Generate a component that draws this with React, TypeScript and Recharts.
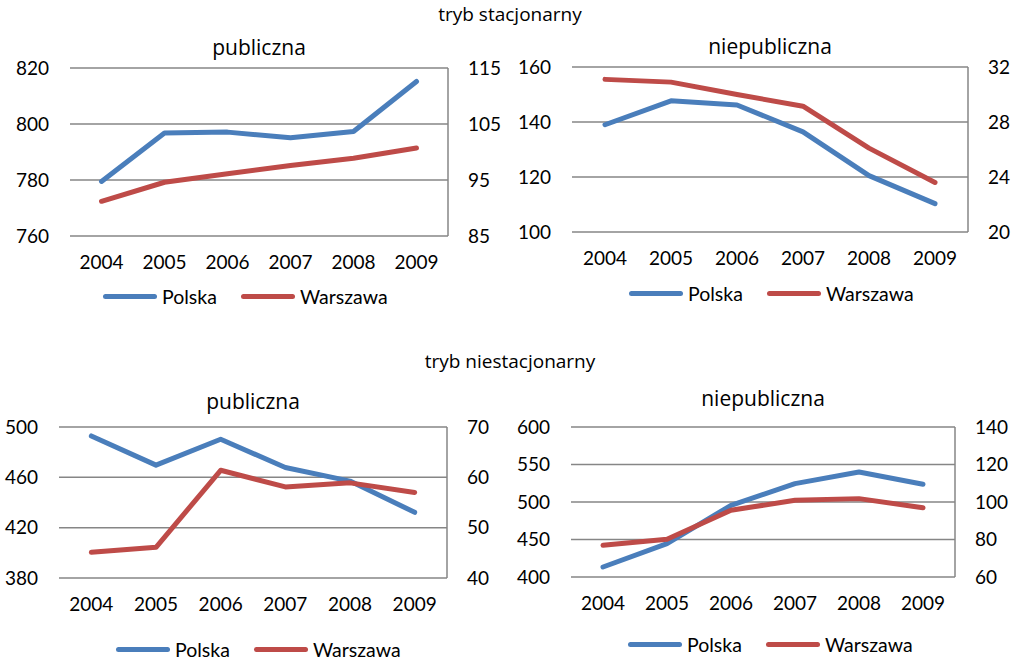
import React from 'react';
import { LineChart, Line, XAxis, YAxis, CartesianGrid } from 'recharts';

const years = ['2004', '2005', '2006', '2007', '2008', '2009'];
const seriesNames = ['Polska', 'Warszawa'];
const sectionTitles = ['tryb stacjonarny', 'tryb niestacjonarny'];

// tryb stacjonarny
const stacPubPolska = [779.5, 796.8, 797.1, 795.1, 797.3, 815.2];
const stacPubWarszawa = [91.2, 94.6, 96.1, 97.6, 98.9, 100.7];
const stacNiepubPolska = [139, 147.7, 146.2, 136.4, 120.5, 110.3];
const stacNiepubWarszawa = [31.1, 30.9, 30.0, 29.15, 26.1, 23.6];

// tryb niestacjonarny
const niestacPubPolska = [492.9, 469.7, 490.3, 467.8, 457, 432.2];
const niestacPubWarszawa = [45.1, 46.1, 61.4, 58.1, 58.9, 57.0];
const niestacNiepubPolska = [413.3, 444.5, 495.6, 524.5, 540, 523.6];
const niestacNiepubWarszawa = [76.9, 80.1, 95.6, 100.9, 101.8, 96.9];

const stacPubLeftTicks = [760, 780, 800, 820];
const stacPubRightTicks = [85, 95, 105, 115];
const stacNiepubLeftTicks = [100, 120, 140, 160];
const stacNiepubRightTicks = [20, 24, 28, 32];
const niestacPubLeftTicks = [380, 420, 460, 500];
const niestacPubRightTicks = [40, 50, 60, 70];
const niestacNiepubLeftTicks = [400, 450, 500, 550, 600];
const niestacNiepubRightTicks = [60, 80, 100, 120, 140];

const BLUE = '#4a7ebb';
const RED = '#be4b48';
const GRID = '#868686';
const FONT = 'Lato, "Open Sans", sans-serif';
const TITLE_FONT = '"Open Sans", sans-serif';

type PanelProps = {
  title: string;
  polska: number[];
  warszawa: number[];
  leftTicks: number[];
  rightTicks: number[];
  // chart box and plot area in page coords
  box: { x: number; y: number; w: number; h: number };
  plot: { x1: number; y1: number; x2: number; y2: number };
  titleY: number;
  legendY: number;
  legendX: number;
};

const AXIS_W = 50;
const XAXIS_H = 30;

function Panel(p: PanelProps) {
  const data = years.map((y, i) => ({
    year: y,
    polska: p.polska[i],
    warszawa: p.warszawa[i],
  }));
  const plotW = p.plot.x2 - p.plot.x1;
  const pad = plotW / (years.length * 2);
  const margin = {
    left: p.plot.x1 - p.box.x - AXIS_W,
    right: p.box.x + p.box.w - p.plot.x2 - AXIS_W,
    top: p.plot.y1 - p.box.y,
    bottom: p.box.y + p.box.h - p.plot.y2 - XAXIS_H,
  };
  const tickStyle = { fill: '#000', fontSize: 19, fontFamily: FONT };
  const titleCenter = (p.plot.x1 + p.plot.x2) / 2;

  return (
    <>
      <div style={{ position: 'absolute', left: p.box.x, top: p.box.y }}>
        <LineChart width={p.box.w} height={p.box.h} data={data} margin={margin}>
          <CartesianGrid yAxisId="left" vertical={false} stroke={GRID} strokeWidth={1.5} />
          <XAxis
            dataKey="year"
            axisLine={false}
            tickLine={false}
            tickSize={0}
            tickMargin={20}
            height={XAXIS_H}
            padding={{ left: pad, right: pad }}
            tick={tickStyle}
            interval={0}
          />
          <YAxis
            yAxisId="left"
            domain={[p.leftTicks[0], p.leftTicks[p.leftTicks.length - 1]]}
            ticks={p.leftTicks}
            axisLine={false}
            tickLine={false}
            tickSize={0}
            tickMargin={21}
            width={AXIS_W}
            tick={tickStyle}
            interval={0}
          />
          <YAxis
            yAxisId="right"
            orientation="right"
            domain={[p.rightTicks[0], p.rightTicks[p.rightTicks.length - 1]]}
            ticks={p.rightTicks}
            axisLine={{ stroke: GRID, strokeWidth: 1.5 }}
            tickLine={false}
            tickSize={0}
            tickMargin={20}
            width={AXIS_W}
            tick={tickStyle}
            interval={0}
          />
          <Line
            yAxisId="left"
            type="linear"
            dataKey="polska"
            stroke={BLUE}
            strokeWidth={5}
            strokeLinecap="round"
            strokeLinejoin="round"
            dot={false}
            isAnimationActive={false}
          />
          <Line
            yAxisId="right"
            type="linear"
            dataKey="warszawa"
            stroke={RED}
            strokeWidth={5}
            strokeLinecap="round"
            strokeLinejoin="round"
            dot={false}
            isAnimationActive={false}
          />
        </LineChart>
      </div>
      <div
        style={{
          position: 'absolute',
          left: titleCenter,
          top: p.titleY,
          transform: 'translateX(-50%)',
          fontFamily: TITLE_FONT,
          fontSize: 21,
          lineHeight: '24px',
          whiteSpace: 'nowrap',
          color: '#000',
        }}
      >
        {p.title}
      </div>
      {[BLUE, RED].map((c, i) => (
        <div
          key={c}
          style={{
            position: 'absolute',
            left: p.legendX + i * 138,
            top: p.legendY - 11,
            height: 22,
            display: 'flex',
            alignItems: 'center',
            fontFamily: FONT,
            fontSize: 19.5,
            color: '#000',
            whiteSpace: 'nowrap',
          }}
        >
          <span
            style={{
              display: 'inline-block',
              width: 54,
              height: 5,
              borderRadius: 3,
              background: c,
              marginRight: 5,
            }}
          />
          {seriesNames[i]}
        </div>
      ))}
    </>
  );
}

export default function App() {
  const sectionStyle: React.CSSProperties = {
    position: 'absolute',
    left: 510,
    transform: 'translateX(-50%)',
    fontFamily: TITLE_FONT,
    fontSize: 19,
    lineHeight: '22px',
    whiteSpace: 'nowrap',
    color: '#000',
  };
  return (
    <div
      style={{
        position: 'absolute',
        left: 0,
        top: 0,
        width: 1019,
        height: 661,
        background: '#fff',
        overflow: 'hidden',
      }}
    >
      <div style={{ ...sectionStyle, top: 3 }}>{sectionTitles[0]}</div>
      <div style={{ ...sectionStyle, top: 350 }}>{sectionTitles[1]}</div>

      <Panel
        title="publiczna"
        polska={stacPubPolska}
        warszawa={stacPubWarszawa}
        leftTicks={stacPubLeftTicks}
        rightTicks={stacPubRightTicks}
        box={{ x: 0, y: 0, w: 510, h: 320 }}
        plot={{ x1: 70, y1: 68, x2: 448, y2: 236 }}
        titleY={35}
        legendX={103}
        legendY={296}
      />
      <Panel
        title="niepubliczna"
        polska={stacNiepubPolska}
        warszawa={stacNiepubWarszawa}
        leftTicks={stacNiepubLeftTicks}
        rightTicks={stacNiepubRightTicks}
        box={{ x: 510, y: 0, w: 509, h: 320 }}
        plot={{ x1: 572, y1: 67, x2: 968, y2: 232 }}
        titleY={34}
        legendX={629}
        legendY={293}
      />
      <Panel
        title="publiczna"
        polska={niestacPubPolska}
        warszawa={niestacPubWarszawa}
        leftTicks={niestacPubLeftTicks}
        rightTicks={niestacPubRightTicks}
        box={{ x: 0, y: 340, w: 510, h: 321 }}
        plot={{ x1: 59, y1: 427, x2: 447, y2: 578 }}
        titleY={389}
        legendX={116}
        legendY={649}
      />
      <Panel
        title="niepubliczna"
        polska={niestacNiepubPolska}
        warszawa={niestacNiepubWarszawa}
        leftTicks={niestacNiepubLeftTicks}
        rightTicks={niestacNiepubRightTicks}
        box={{ x: 510, y: 340, w: 509, h: 321 }}
        plot={{ x1: 571, y1: 427, x2: 955, y2: 577 }}
        titleY={386}
        legendX={628}
        legendY={644}
      />
    </div>
  );
}
